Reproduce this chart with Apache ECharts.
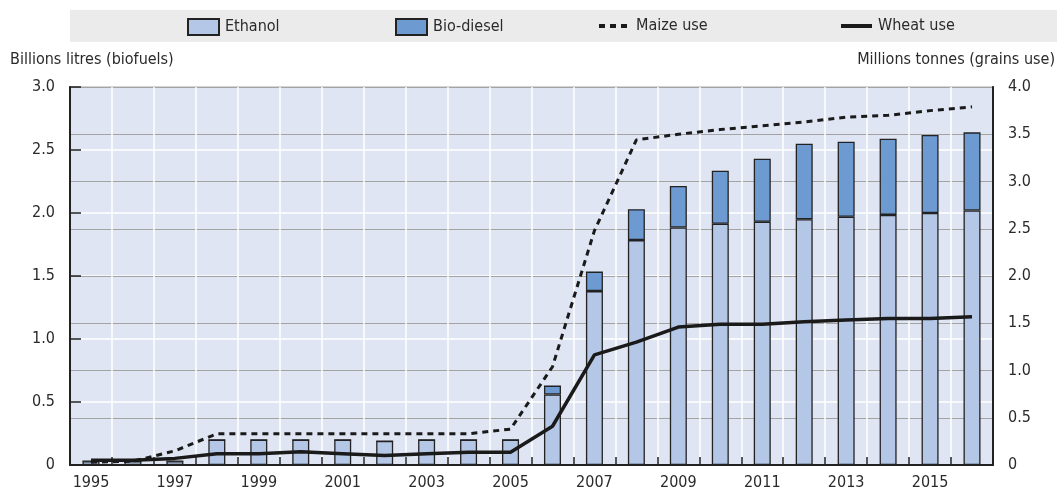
<!DOCTYPE html>
<html>
<head>
<meta charset="utf-8">
<script src="https://cdn.jsdelivr.net/npm/echarts@6/dist/echarts.min.js"></script>
<style>
  html, body { margin: 0; padding: 0; background: #fff; }
  #chart { width: 1057px; height: 492px; }
</style>
</head>
<body>
<div id="chart"></div>
<script>
const years = ["1995", "1996", "1997", "1998", "1999", "2000", "2001", "2002", "2003", "2004", "2005",
    "2006", "2007", "2008", "2009", "2010", "2011", "2012", "2013", "2014", "2015", "2016"];
// billions litres (left axis)
const ethanol = [0.03, 0.03, 0.03, 0.2, 0.2, 0.2, 0.2, 0.19, 0.2, 0.2, 0.2,
    0.56, 1.38, 1.785, 1.885, 1.915, 1.93, 1.95, 1.97, 1.985, 2.0, 2.02];
const biodiesel = [0, 0, 0, 0, 0, 0, 0, 0, 0, 0, 0,
    0.07, 0.155, 0.245, 0.33, 0.42, 0.5, 0.6, 0.595, 0.605, 0.62, 0.62];
// millions tonnes (right axis)
const maizeUse = [0.03, 0.04, 0.15, 0.33, 0.33, 0.33, 0.33, 0.33, 0.33, 0.33, 0.38,
    1.04, 2.48, 3.44, 3.5, 3.55, 3.59, 3.63, 3.68, 3.7, 3.75, 3.79];
const wheatUse = [0.05, 0.05, 0.07, 0.12, 0.12, 0.14, 0.12, 0.1, 0.12, 0.135, 0.135,
    0.41, 1.165, 1.3, 1.46, 1.49, 1.49, 1.515, 1.535, 1.55, 1.55, 1.57];

const FONT = "'Liberation Sans Narrow', 'DejaVu Sans Condensed', 'Liberation Sans', sans-serif";
const TXT = "#2a2a2a";

const chart = echarts.init(document.getElementById("chart"), null, { renderer: "canvas" });

const legendBase = {
    top: 13,
    itemHeight: 16,
    itemWidth: 31,
    itemGap: 0,
    textStyle: { fontFamily: FONT, fontSize: 16, color: TXT, padding: [0, 0, 0, 1] },
};
const lineLegend = {
    itemWidth: 31,
    itemHeight: 16,
    itemStyle: { opacity: 0 },
    lineStyle: { width: 4 },
};

chart.setOption({
    animation: false,
    textStyle: { fontFamily: FONT },
    graphic: [
        { type: "rect", z: -10, shape: { x: 70, y: 10, width: 987, height: 32 }, style: { fill: "#ebebeb" } },
        { type: "text", left: 10, top: 52, style: { text: "Billions litres (biofuels)", font: "16px " + FONT, fill: TXT } },
        { type: "text", right: 2, top: 52, style: { text: "Millions tonnes (grains use)", font: "16px " + FONT, fill: TXT } },
    ],
    legend: [
        Object.assign({}, legendBase, { left: 182, icon: "rect", data: ["Ethanol"] }),
        Object.assign({}, legendBase, { left: 390, icon: "rect", data: ["Bio-diesel"] }),
        Object.assign({}, legendBase, lineLegend, { left: 592, data: ["Maize use"] }),
        Object.assign({}, legendBase, lineLegend, { left: 834, data: ["Wheat use"] }),
    ],
    grid: {
        left: 70,
        right: 64,
        top: 87,
        bottom: 27,
        show: true,
        backgroundColor: "#dfe5f3",
        borderColor: "#222",
        borderWidth: 1.5,
    },
    xAxis: {
        type: "category",
        data: years,
        boundaryGap: true,
        axisLine: { lineStyle: { color: "#222", width: 2 } },
        axisTick: { show: true, inside: true, interval: 0, length: 8, lineStyle: { color: "#222", width: 1.5 } },
        axisLabel: { interval: 1, margin: 10, fontSize: 16, color: TXT, fontFamily: FONT },
        splitLine: { show: true, interval: 0, lineStyle: { color: "#ffffff", width: 1.5 } },
    },
    yAxis: [
        {
            type: "value",
            min: 0,
            max: 3,
            interval: 0.5,
            position: "left",
            axisLine: { show: true, lineStyle: { color: "#222", width: 2 } },
            axisTick: { show: true, inside: true, length: 11, lineStyle: { color: "#222", width: 1.5 } },
            axisLabel: {
                margin: 15, fontSize: 16, color: TXT, fontFamily: FONT,
                formatter: v => (v === 0 ? "0" : v.toFixed(1)),
            },
            splitLine: { show: true, lineStyle: { color: "#ffffff", width: 1.5 } },
        },
        {
            type: "value",
            min: 0,
            max: 4,
            interval: 0.5,
            position: "right",
            axisLine: { show: true, lineStyle: { color: "#222", width: 2 } },
            axisTick: { show: false },
            axisLabel: {
                margin: 15, fontSize: 16, color: TXT, fontFamily: FONT,
                formatter: v => (v === 0 ? "0" : v.toFixed(1)),
            },
            splitLine: { show: true, lineStyle: { color: "#a3a3a3", width: 1 } },
        },
    ],
    series: [
        {
            name: "Ethanol",
            type: "bar",
            stack: "bio",
            yAxisIndex: 0,
            barWidth: 17,
            data: ethanol,
            itemStyle: { color: "#b4c7e7", borderColor: "#222", borderWidth: 1.3 },
        },
        {
            name: "Bio-diesel",
            type: "bar",
            stack: "bio",
            yAxisIndex: 0,
            barWidth: 17,
            data: biodiesel,
            itemStyle: { color: "#6e9ad2", borderColor: "#222", borderWidth: 1.3 },
        },
        {
            name: "Maize use",
            type: "line",
            yAxisIndex: 1,
            data: maizeUse,
            symbol: "none",
            z: 5,
            itemStyle: { color: "#1a1a1a" },
            lineStyle: { color: "#1a1a1a", width: 3, type: [6, 5] },
        },
        {
            name: "Wheat use",
            type: "line",
            yAxisIndex: 1,
            data: wheatUse,
            symbol: "none",
            z: 5,
            itemStyle: { color: "#1a1a1a" },
            lineStyle: { color: "#1a1a1a", width: 3.5 },
        },
    ],
});
</script>
</body>
</html>
